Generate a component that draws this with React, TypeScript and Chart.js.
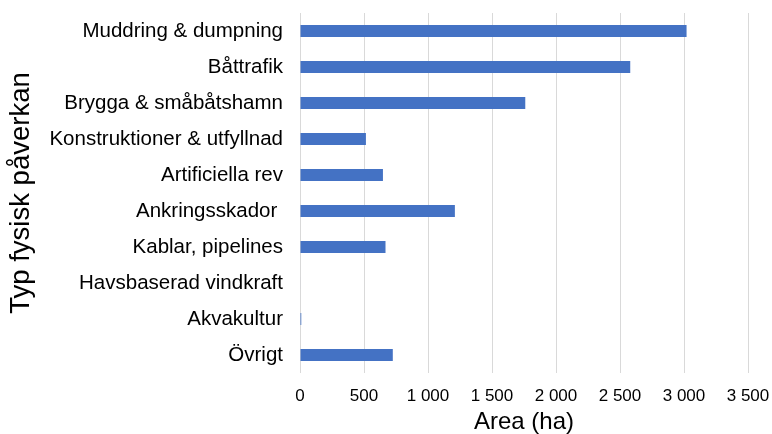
import React, { useEffect, useRef } from "react";
import { Chart, registerables } from "chart.js";

Chart.register(...registerables);

const categories = [
  "Muddring & dumpning",
  "Båttrafik",
  "Brygga & småbåtshamn",
  "Konstruktioner & utfyllnad",
  "Artificiella rev",
  "Ankringsskador ",
  "Kablar, pipelines",
  "Havsbaserad vindkraft",
  "Akvakultur",
  "Övrigt",
];

const areaValues = [3020, 2580, 1760, 515, 648, 1210, 668, 4, 10, 725];

const xTickMax = 3500;
const xTickStep = 500;

const FONT = "'Liberation Sans', Arial, sans-serif";

function formatThousands(v: number): string {
  return String(v).replace(/\B(?=(\d{3})+(?!\d))/g, " ");
}

export default function App() {
  const ref = useRef<HTMLCanvasElement | null>(null);

  useEffect(() => {
    document.body.style.margin = "0";
    if (!ref.current) return;
    const chart = new Chart(ref.current, {
      type: "bar",
      data: {
        labels: categories,
        datasets: [
          {
            label: "Area (ha)",
            data: areaValues,
            backgroundColor: "#4472C4",
            borderWidth: 0,
            categoryPercentage: 1,
            barPercentage: 0.333,
          },
        ],
      },
      options: {
        indexAxis: "y",
        responsive: false,
        animation: false,
        layout: { padding: { top: 13, right: 24, bottom: 0, left: 0 } },
        plugins: {
          legend: { display: false },
          tooltip: { enabled: false },
        },
        scales: {
          x: {
            min: 0,
            max: xTickMax,
            ticks: {
              stepSize: xTickStep,
              padding: 13,
              color: "#000",
              font: { family: FONT, size: 17 },
              callback: (v: any) => formatThousands(Number(v)),
              maxRotation: 0,
            },
            grid: { color: "#d9d9d9", lineWidth: 1, drawTicks: false },
            border: { display: false },
            title: {
              display: true,
              text: "Area (ha)",
              color: "#000",
              font: { family: FONT, size: 24, lineHeight: 1 },
              padding: { top: 0, bottom: 0 },
            },
            afterFit: (scale: any) => {
              scale.height = 61;
              scale.paddingLeft = 0;
              scale.paddingRight = 0;
            },
          },
          y: {
            ticks: {
              padding: 17,
              color: "#000",
              font: { family: FONT, size: 20.5 },
              autoSkip: false,
            },
            grid: { display: false, drawTicks: false },
            border: { display: false },
            title: {
              display: true,
              text: "Typ fysisk påverkan",
              color: "#000",
              font: { family: FONT, size: 27.5, lineHeight: 1 },
              padding: { top: 8, bottom: 0 },
            },
            afterFit: (scale: any) => {
              scale.width = 300;
              scale.paddingTop = 0;
              scale.paddingBottom = 0;
            },
          },
        },
      },
    });
    return () => chart.destroy();
  }, []);

  return (
    <div style={{ width: 772, height: 434, background: "#fff" }}>
      <canvas ref={ref} width={772} height={434} style={{ display: "block" }} />
    </div>
  );
}
